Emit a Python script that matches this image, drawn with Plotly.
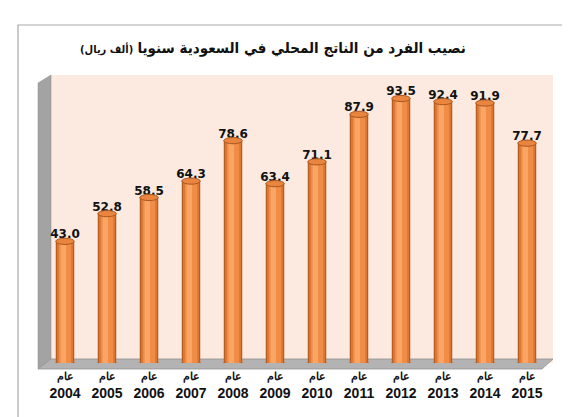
import plotly.graph_objects as go

years = [2004, 2005, 2006, 2007, 2008, 2009, 2010, 2011, 2012, 2013, 2014, 2015]
values = [43.0, 52.8, 58.5, 64.3, 78.6, 63.4, 71.1, 87.9, 93.5, 92.4, 91.9, 77.7]
year_word = "عام"
title_main = "نصيب الفرد من الناتج المحلي في السعودية سنويا"
title_unit = "(ألف ريال)"

W, H = 570, 417
# plot area in pixels (back wall of the 3d box)
L, R, T, B = 43, 545, 67, 355
ymax = 101.8

def px(x):
    return (x - L) / (R - L)

def py(y):
    return (B - y) / (B - T)

xs = list(range(len(years)))
fig = go.Figure()

# cylinder body made of overlaid bars, dark edges to light centre
layers = [(0.44, "#b65e22", 0), (0.38, "#dc7834", 0), (0.29, "#f08c45", 0), (0.13, "#f8a566", -0.04)]
for w, c, off in layers:
    fig.add_trace(go.Bar(x=xs, y=values, width=w, offset=[-w / 2 + off] * len(xs),
                         marker=dict(color=c, line=dict(width=0)), hoverinfo="skip", showlegend=False))

fig.add_trace(go.Scatter(x=xs, y=values, mode="text", text=["%.1f" % v for v in values],
                         textposition="top center",
                         textfont=dict(family="DejaVu Sans", size=12, color="#111111", weight="bold"),
                         cliponaxis=False, hoverinfo="skip", showlegend=False))

shapes = []
# outer frame
shapes.append(dict(type="rect", xref="paper", yref="paper", x0=px(10), x1=px(563), y0=py(410), y1=py(17),
                   line=dict(color="#a9a9a9", width=1.2), fillcolor="rgba(0,0,0,0)", layer="below"))
# left side wall
shapes.append(dict(type="path", xref="paper", yref="paper",
                   path="M %f %f L %f %f L %f %f L %f %f Z" % (px(30), py(75), px(43), py(67), px(43), py(351), px(30), py(361)),
                   fillcolor="#a3a3a3", line=dict(color="#8f8f8f", width=0.5), layer="below"))
# floor
shapes.append(dict(type="path", xref="paper", yref="paper",
                   path="M %f %f L %f %f L %f %f L %f %f Z" % (px(43), py(351), px(545), py(351), px(534), py(361), px(30), py(361)),
                   fillcolor="#b3b3b3", line=dict(color="#909090", width=0.8), layer="below"))

# bottom and top ellipses of each cylinder
bw, eh = 0.44, 1.1
for x, v in zip(xs, values):
    shapes.append(dict(type="circle", xref="x", yref="y", x0=x - bw / 2, x1=x + bw / 2, y0=-eh, y1=eh,
                       fillcolor="#dc7834", line=dict(color="#b65e22", width=0.8), layer="below"))
    shapes.append(dict(type="circle", xref="x", yref="y", x0=x - bw / 2, x1=x + bw / 2, y0=v - eh, y1=v + eh,
                       fillcolor="#e9853f", line=dict(color="#a9571f", width=1), layer="above"))

ticktext = ["<span style='font-size:11px'>%s</span><br>%d" % (year_word, y) for y in years]

fig.update_layout(
    width=W, height=H,
    margin=dict(l=L, r=W - R, t=T, b=H - B),
    paper_bgcolor="white", plot_bgcolor="#fce9df",
    barmode="overlay",
    shapes=shapes,
    title=dict(text="<b>%s</b> <span style='font-size:11px'><b>%s</b></span>" % (title_main, title_unit),
               x=(265 - L) / (R - L), xref="paper", xanchor="center", y=1 - 40 / H, yanchor="middle",
               font=dict(family="DejaVu Sans Condensed, DejaVu Sans", size=15, color="#111111")),
    xaxis=dict(range=[-(57 - L) / 42, len(xs) - 1 + (R - 519) / 42], tickvals=xs, ticktext=ticktext,
               showgrid=False, zeroline=False, showline=False, ticks="", ticklabelstandoff=2,
               tickfont=dict(family="Liberation Sans", size=14, color="#111111", weight="bold")),
    yaxis=dict(range=[0, ymax], visible=False),
)

fig.write_html("out.html")
